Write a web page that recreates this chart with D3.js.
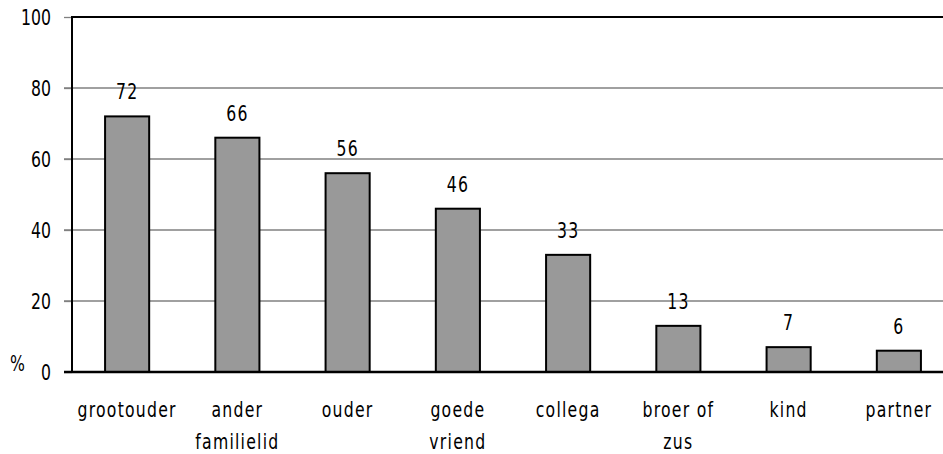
<!DOCTYPE html>
<html>
<head>
<meta charset="utf-8">
<script src="https://cdn.jsdelivr.net/npm/d3@7"></script>
<style>
  body { margin: 0; background: #fff; }
  text { font-family: "DejaVu Sans Condensed", "DejaVu Sans", sans-serif; font-size: 21px; fill: #000; }
</style>
</head>
<body>
<svg id="chart" width="943" height="454"></svg>
<script>
var categories = [['grootouder'], ['ander', 'familielid'], ['ouder'], ['goede', 'vriend'], ['collega'], ['broer of', 'zus'], ['kind'], ['partner']];
var values = [72, 66, 56, 46, 33, 13, 7, 6];
var yTicks = [0, 20, 40, 60, 80, 100];

var svg = d3.select('#chart');
var margin = { top: 17, left: 72 };
var plotW = 882, plotH = 355;
var squeeze = 0.83;

var x = d3.scaleBand()
  .domain(d3.range(categories.length))
  .range([margin.left, margin.left + plotW])
  .paddingInner(0.6)
  .paddingOuter(0.3);

var y = d3.scaleLinear().domain([0, 100]).range([margin.top + plotH, margin.top]);

// narrow text: place a group and squeeze it horizontally
function label(parent, px, py, anchor) {
  return parent.append('g')
    .attr('transform', 'translate(' + px + ',' + py + ') scale(' + squeeze + ',1)')
    .append('text')
    .attr('text-anchor', anchor);
}

// gridlines
svg.append('g')
  .selectAll('line')
  .data(yTicks.filter(function(d) { return d > 0 && d < 100; }))
  .enter().append('line')
  .attr('x1', margin.left - 8).attr('x2', 943)
  .attr('y1', function(d) { return y(d); }).attr('y2', function(d) { return y(d); })
  .attr('stroke', '#808080').attr('stroke-width', 1.3);

// y axis ticks (labels drawn separately)
var yAxis = svg.append('g')
  .attr('transform', 'translate(' + margin.left + ',0)')
  .call(d3.axisLeft(y).tickValues(yTicks).tickSize(8).tickFormat(''));
yAxis.select('.domain').remove();
yAxis.selectAll('.tick line').attr('stroke', '#808080').attr('stroke-width', 1.3);

var yLab = svg.append('g');
yTicks.forEach(function(t) {
  label(yLab, margin.left - 21, y(t) + 7.5, 'end').text(t);
});

// frame: top and left
svg.append('line').attr('x1', margin.left).attr('x2', 943)
  .attr('y1', y(100)).attr('y2', y(100)).attr('stroke', '#000').attr('stroke-width', 2);
svg.append('line').attr('x1', margin.left).attr('x2', margin.left)
  .attr('y1', y(100) - 1).attr('y2', y(0) + 1).attr('stroke', '#000').attr('stroke-width', 2);

// bars
svg.append('g')
  .selectAll('rect')
  .data(values)
  .enter().append('rect')
  .attr('x', function(d, i) { return x(i); })
  .attr('width', x.bandwidth())
  .attr('y', function(d) { return y(d); })
  .attr('height', function(d) { return y(0) - y(d); })
  .attr('fill', '#999999')
  .attr('stroke', '#000')
  .attr('stroke-width', 2);

svg.append('line').attr('x1', margin.left - 8).attr('x2', 943)
  .attr('y1', y(0)).attr('y2', y(0)).attr('stroke', '#000').attr('stroke-width', 2.5);

// value labels
var valG = svg.append('g');
values.forEach(function(v, i) {
  label(valG, x(i) + x.bandwidth() / 2, y(v) - 17, 'middle')
    .style('letter-spacing', '1.5px')
    .text(v);
});

// category labels
var catG = svg.append('g');
categories.forEach(function(lines, i) {
  var t = label(catG, x(i) + x.bandwidth() / 2, 417, 'middle')
    .style('letter-spacing', '1.5px');
  t.selectAll('tspan')
    .data(lines)
    .enter().append('tspan')
    .attr('x', 0)
    .attr('dy', function(d, j) { return j === 0 ? 0 : 32; })
    .text(function(d) { return d; });
});

label(svg, 10, 371, 'start').text('%');
</script>
</body>
</html>
